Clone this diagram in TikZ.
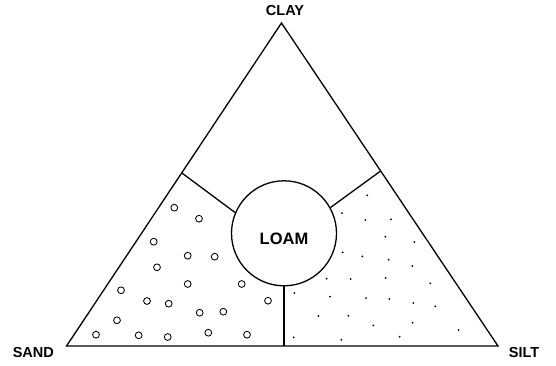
\documentclass[tikz,border=0pt]{standalone}
\usepackage{fontspec}
\setmainfont{Liberation Sans}
\usetikzlibrary{calc}
\begin{document}
\begin{tikzpicture}[x=1pt,y=-1pt,
  edge/.style={line width=1.3pt,line join=miter},
  lbl/.style={font=\fontsize{14.5}{16}\selectfont\bfseries,inner sep=0pt},
  loamc/.style={circle,draw,line width=1.3pt,minimum size=105pt,inner sep=0pt},
  pebble/.style={line width=0.85pt},
  grain/.style={fill=black}]
\useasboundingbox (0,0) rectangle (556,365);
% vertices
\coordinate (T) at (281.5,23);
\coordinate (L) at (66.5,346);
\coordinate (R) at (498,346);
\draw[edge] (L) -- (T) -- (R) -- cycle;
% loam circle
\node[loamc] (loam) at (284,233.3) {};
\node[lbl,font=\fontsize{16.5}{18}\selectfont\bfseries] (loamtext) at (284,239) {LOAM};
% divider end points
\coordinate (dl) at ($(L)!0.536!(T)$);
\coordinate (dr) at ($(R)!0.542!(T)$);
\coordinate (db) at (loam.south |- L);
\draw[edge] (dl) -- (loam.157);
\draw[edge] (dr) -- (loam.29);
\draw[edge] (loam.south) -- (db);
% labels
\node[lbl] (clay) at (285,11) {CLAY};
\node[lbl] (sand) at (33.3,352) {SAND};
\node[lbl] (silt) at (524,352) {SILT};
% sand pebbles
\foreach \p in {(174.3,207.7),(199,218.7),(153.7,241.7),(187.7,255.7),(214.7,256.7),
  (157,267.3),(187.7,284),(241.7,284),(121,290.3),(147,301),(168.7,303.7),(268,300.7),
  (199.7,312.7),(223.3,311.7),(117,320.3),(96,334.7),(138.7,335.3),(167.7,337),
  (208.3,332.7),(247,334.7)}
  \draw[pebble] \p circle[radius=3.4pt];
% silt grains
\foreach \p in {(367.3,195.3),(342,213),(365.3,220),(391,219.3),(385.3,236.7),(414.3,242),
  (342.7,252.3),(362.3,256.3),(388.7,259.7),(412.3,266),(326.7,278.7),(350.7,279),
  (385.7,278),(430.3,283.3),(294.3,293),(330,296.7),(366,298),(389.3,299),(413.3,303),
  (435.3,306.3),(318.3,316),(348.3,315.7),(373.3,325.3),(412.7,322.7),(458.7,330),
  (293.7,337.3),(341.3,339.7),(399.7,336.7)}
  \fill[grain] \p circle[radius=1pt];
\end{tikzpicture}
\end{document}
